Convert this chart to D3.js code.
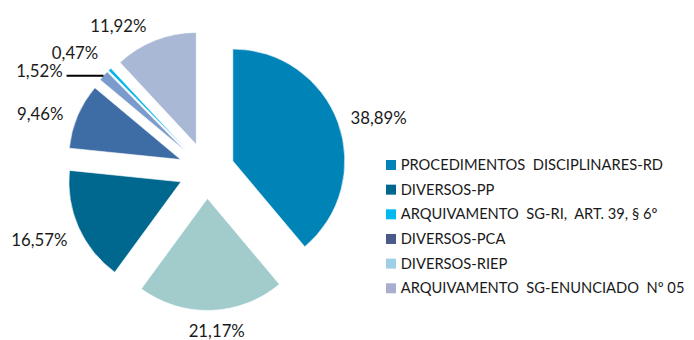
<!DOCTYPE html>
<html>
<head>
<meta charset="utf-8">
<script src="https://cdn.jsdelivr.net/npm/d3@7"></script>
<style>
  html, body { margin: 0; padding: 0; background: #fff; }
  svg text { font-family: Lato, "Open Sans", sans-serif; fill: #1a1a1a; white-space: pre; }
</style>
</head>
<body>
<svg id="chart" width="694" height="340"></svg>
<script>
// Slice values (%), clockwise from 12 o'clock
const sliceNames = [
  "PROCEDIMENTOS DISCIPLINARES-RD",
  "DIVERSOS-RIEP",
  "DIVERSOS-PP",
  "DIVERSOS-PCA",
  "OUTROS",
  "ARQUIVAMENTO SG-RI, ART. 39, § 6º",
  "ARQUIVAMENTO SG-ENUNCIADO Nº 05"
];
const sliceValues = [38.89, 21.17, 16.57, 9.46, 1.52, 0.47, 11.92];
const sliceColors = ["#0084b8", "#a2cccc", "#00688e", "#3e6da5", "#7b9bcc", "#00b6ea", "#a9b8d5"];

// Legend entries
const legendLabels = [
  "PROCEDIMENTOS  DISCIPLINARES-RD",
  "DIVERSOS-PP",
  "ARQUIVAMENTO  SG-RI,  ART. 39, § 6º",
  "DIVERSOS-PCA",
  "DIVERSOS-RIEP",
  "ARQUIVAMENTO  SG-ENUNCIADO  Nº 05"
];
const legendColors = ["#0084b8", "#00688e", "#00b9f0", "#4a5b8a", "#9ecfe6", "#a9aecf"];

// Label offsets (px): text centre / baseline relative to each slice's outer mid point
const labelOffset = [[40.6, 1.4], [5.6, 26.8], [-39.3, 18.3], [-37.3, 4], [-64.2, 0.9], [-34.6, -10.2], [-36.9, -7.9]];

const svg = d3.select("#chart");
const cx = 206.5, cy = 170.5, radius = 112, explode = 28;

const pie = d3.pie().sort(null).value(d => d.value);
const arcs = pie(sliceValues.map((v, i) => ({ name: sliceNames[i], value: v, color: sliceColors[i] })));
const arc = d3.arc().innerRadius(0).outerRadius(radius);
const midAngle = d => (d.startAngle + d.endAngle) / 2;

const fmt = v => d3.format(".2f")(v).replace(".", ",") + "%";

const g = svg.append("g").attr("transform", `translate(${cx},${cy})`);

g.selectAll("path.slice")
  .data(arcs)
  .join("path")
  .attr("class", "slice")
  .attr("d", arc)
  .attr("fill", d => d.data.color)
  .attr("stroke", "#fff")
  .attr("stroke-width", 0.6)
  .attr("transform", d => {
    const a = midAngle(d);
    return `translate(${Math.sin(a) * explode},${-Math.cos(a) * explode})`;
  });

// Outer mid point of each exploded slice
const outerR = radius + explode;
const outerPt = d => [Math.sin(midAngle(d)) * outerR, -Math.cos(midAngle(d)) * outerR];

// Data labels
g.selectAll("text.lbl")
  .data(arcs)
  .join("text")
  .attr("class", "lbl")
  .attr("font-size", 16.8)
  .attr("text-anchor", "middle")
  .attr("x", (d, i) => outerPt(d)[0] + labelOffset[i][0])
  .attr("y", (d, i) => outerPt(d)[1] + labelOffset[i][1])
  .text(d => fmt(d.data.value));

// Leader line for the 1,52% slice
{
  const [ox, oy] = outerPt(arcs[4]);
  g.append("line")
    .attr("x1", ox).attr("y1", oy)
    .attr("x2", ox - 37).attr("y2", oy)
    .attr("stroke", "#000").attr("stroke-width", 2);
}

// Legend
const legend = svg.append("g").attr("transform", "translate(386,170)");
const rowH = 24.66;
const items = legend.selectAll("g.item")
  .data(legendLabels)
  .join("g")
  .attr("class", "item")
  .attr("transform", (d, i) => `translate(0,${i * rowH})`);
items.append("rect")
  .attr("x", 0).attr("y", -10).attr("width", 10).attr("height", 10)
  .attr("fill", (d, i) => legendColors[i]);
items.append("text")
  .attr("x", 14.7).attr("y", 0)
  .attr("font-size", 14.7)
  .text(d => d);
</script>
</body>
</html>
